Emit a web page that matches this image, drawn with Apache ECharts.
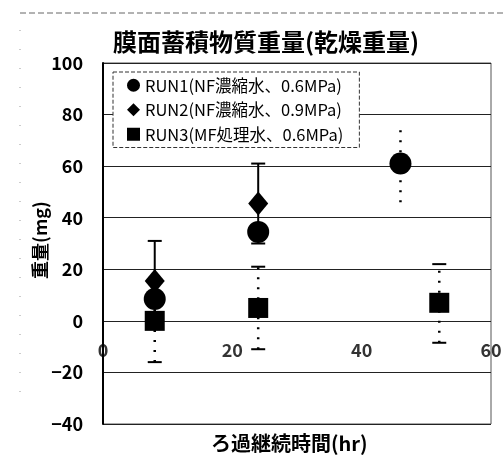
<!DOCTYPE html>
<html><head><meta charset="utf-8">
<script src="https://cdn.jsdelivr.net/npm/echarts@6/dist/echarts.min.js"></script>
<style>html,body{margin:0;padding:0;background:#fff}#c{width:504px;height:464px}</style>
</head><body><div id="c"></div>
<script>
const FONT = '"Noto Sans CJK JP", "Noto Sans", sans-serif';
const titleText = '膜面蓄積物質重量(乾燥重量)';
const xName = 'ろ過継続時間(hr)';
const yName = '重量(mg)';
const seriesNames = ['RUN1(NF濃縮水、0.6MPa)', 'RUN2(NF濃縮水、0.9MPa)', 'RUN3(MF処理水、0.6MPa)'];
const xTicks = [0, 20, 40, 60];
const yTicks = [-40, -20, 0, 20, 40, 60, 80, 100];

// RUN1
const run1X = [8, 24, 46];
const run1Y = [8.5, 34.5, 61];
const run1Low = [null, null, 46];
const run1High = [null, null, 76];
// RUN2
const run2X = [8, 24];
const run2Y = [15.5, 45.5];
const run2Low = [0, 30];
const run2High = [31, 61];
// RUN3
const run3X = [8, 24, 52];
const run3Y = [0, 5, 7];
const run3Low = [-16, -11, -8.5];
const run3High = [16, 21, 22];

function pts(xs, ys) { return xs.map((x, i) => [x, ys[i]]); }
function errs(xs, lo, hi) {
  const out = [];
  xs.forEach((x, i) => { if (lo[i] != null) out.push([x, lo[i], hi[i]]); });
  return out;
}

function errSeries(data, dotted, caps) {
  return {
    type: 'custom', silent: true, z: 1,
    data: data,
    encode: { x: 0, y: [1, 2] },
    renderItem: function (params, api) {
      const x = api.value(0);
      const lo = api.coord([x, api.value(1)]);
      const hi = api.coord([x, api.value(2)]);
      const style = dotted
        ? { stroke: '#000', lineWidth: 2.5, lineDash: [2, 8], lineCap: 'butt' }
        : { stroke: '#000', lineWidth: 2 };
      const children = [{ type: 'line', shape: { x1: lo[0], y1: lo[1], x2: hi[0], y2: hi[1] }, style: style }];
      if (caps) {
        const w = 7;
        [lo, hi].forEach(p => children.push({ type: 'line', shape: { x1: p[0] - w, y1: p[1], x2: p[0] + w, y2: p[1] }, style: { stroke: '#000', lineWidth: 2 } }));
      }
      return { type: 'group', children: children };
    }
  };
}

const chart = echarts.init(document.getElementById('c'), null, { renderer: 'canvas' });
chart.setOption({
  backgroundColor: '#fff',
  animation: false,
  textStyle: { fontFamily: FONT },
  title: {
    text: titleText, left: 261, top: 25, textAlign: 'center',
    textStyle: { fontFamily: FONT, fontSize: 24, fontWeight: 'bold', color: '#000' }
  },
  grid: { left: 103, right: 13, top: 63, bottom: 40, show: true, borderColor: '#555', borderWidth: 1, backgroundColor: 'transparent' },
  legend: {
    orient: 'vertical', left: 113, top: 72,
    data: seriesNames.map((n, i) => ({ name: n, icon: ['circle', 'diamond', 'rect'][i] })),
    itemWidth: 13, itemHeight: 13, itemGap: 8,
    padding: [5, 16, 5, 14],
    borderColor: '#333', borderWidth: 1, borderType: 'dashed', backgroundColor: '#fff',
    textStyle: { fontFamily: FONT, fontSize: 16.5, color: '#000', fontWeight: 'normal' }
  },
  xAxis: {
    type: 'value', min: xTicks[0], max: xTicks[xTicks.length - 1], interval: 20,
    axisLine: { show: false },
    axisTick: { show: false },
    axisLabel: { show: false },
    splitLine: { show: false }
  },
  yAxis: {
    type: 'value', min: yTicks[0], max: yTicks[yTicks.length - 1], interval: 20,
    axisLine: { show: true, lineStyle: { color: '#000', width: 2 } },
    axisTick: { show: false },
    axisLabel: { fontFamily: FONT, fontSize: 18, color: '#000', margin: 20, fontWeight: 'bold',
      formatter: v => String(v).replace('-', '−') },
    splitLine: { show: true, lineStyle: { color: '#222', width: 1.2 } }
  },
  graphic: [
    { type: 'text', left: 211, top: 433, style: { text: xName, fill: '#000', font: 'bold 20px ' + FONT } },
    { type: 'text', x: 40, y: 240, rotation: Math.PI / 2,
      style: { text: yName, fill: '#000', font: 'bold 18px ' + FONT, align: 'center', verticalAlign: 'middle' } },
    { type: 'line', shape: { x1: 20, y1: 13, x2: 504, y2: 13 }, style: { stroke: '#666', lineWidth: 1, lineDash: [6, 3] }, silent: true },
    { type: 'line', shape: { x1: 20, y1: 30, x2: 20, y2: 400 }, style: { stroke: '#999', lineWidth: 1, lineDash: [1, 18] }, silent: true }
  ],
  series: [
    errSeries(errs(run1X, run1Low, run1High), true, false),
    errSeries(errs(run2X, run2Low, run2High), false, true),
    errSeries(errs(run3X, run3Low, run3High), true, true),
    { name: seriesNames[0], type: 'scatter', symbol: 'circle', symbolSize: 22, itemStyle: { color: '#000', opacity: 1 }, data: pts(run1X, run1Y), z: 3 },
    { name: seriesNames[1], type: 'scatter', symbol: 'diamond', symbolSize: [20, 24], itemStyle: { color: '#000', opacity: 1 }, data: pts(run2X, run2Y), z: 3 },
    { name: seriesNames[2], type: 'scatter', symbol: 'rect', symbolSize: 20, itemStyle: { color: '#000', opacity: 1 }, data: pts(run3X, run3Y), z: 3 },
    { name: 'xticks', type: 'scatter', symbolSize: 0, silent: true, z: 4,
      data: xTicks.map(x => [x, 0]),
      label: { show: true, position: 'bottom', distance: 20, formatter: p => String(p.value[0]),
        fontFamily: FONT, fontSize: 18, fontWeight: 'bold', color: '#000' } }
  ]
});
</script>
</body></html>
